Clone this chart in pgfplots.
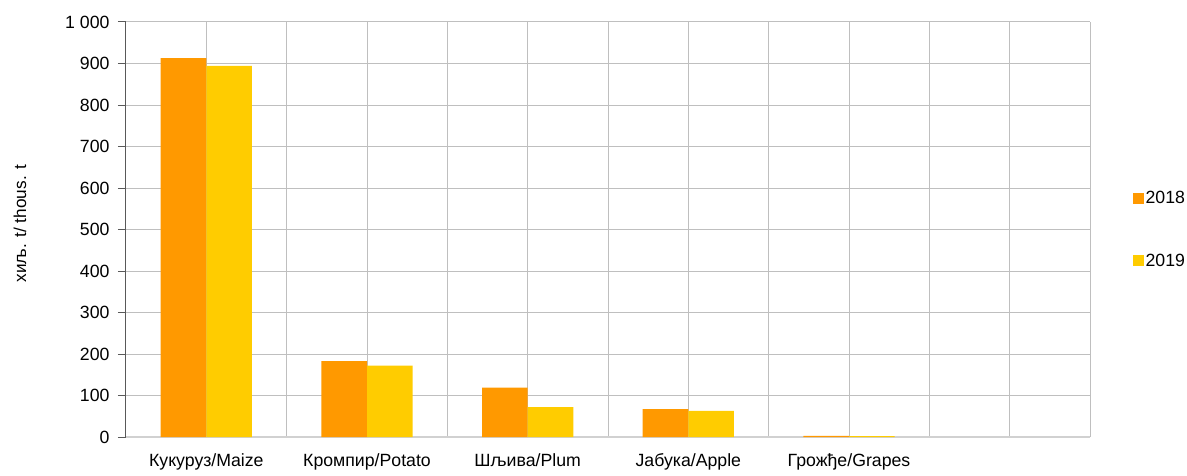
\documentclass[border=0pt]{standalone}
\usepackage{pgfplots}
\pgfplotsset{compat=1.18}
\usepackage{fontspec}
\setmainfont{Liberation Sans}
\definecolor{c18}{HTML}{FF9900}
\definecolor{c19}{HTML}{FFCC00}
\definecolor{gridc}{HTML}{BFBFBF}
\begin{document}
\begin{tikzpicture}
\useasboundingbox (0,0) rectangle (1187pt,475pt);
\begin{axis}[
  at={(126pt,38pt)}, anchor=south west,
  scale only axis, width=964pt, height=415pt,
  ybar=0pt, bar width=45.6pt,
  xmin=-0.5, xmax=5.5, ymin=0, ymax=1000,
  xtick={0,1,2,3,4},
  xticklabels={Кукуруз/Maize, Кромпир/Potato, Шљива/Plum, Јабука/Apple, Грожђе/Grapes},
  minor xtick={0.5,1.5,2.5,3.5,4.5,5,5.5},
  ytick={0,100,...,1000},
  xmajorgrids, xminorgrids, ymajorgrids,
  major grid style={draw=gridc, line width=1pt},
  minor grid style={draw=gridc, line width=1pt},
  axis x line*=bottom, axis y line*=left,
  x axis line style={draw=black!18, line width=1.5pt},
  y axis line style={draw=black!65, line width=1pt},
  xtick style={draw=none},
  ytick style={draw=black!65, line width=1pt},
  major tick length=8pt, tick align=outside,
  tick label style={font=\fontsize{17.7}{21}\selectfont},
  yticklabel style={xshift=-5pt},
  xticklabel style={yshift=-5pt},
  ylabel={хиљ. t/ thous. t},
  ylabel style={font=\fontsize{17.2}{20}\selectfont, at={(axis description cs:-0.110,0.514)}, anchor=center},
  legend style={at={(axis description cs:1.044,0.5)}, anchor=west, draw=none, fill=none,
    font=\fontsize{17.7}{21}\selectfont, row sep=45pt, inner sep=0pt},
  legend cell align=left,
  legend image code/.code={\fill[#1] (-4pt,-5.5pt) rectangle (7pt,5.5pt);},
  /pgf/number format/.cd, 1000 sep={\ }, assume math mode=true,
]
\addplot[fill=c18, draw=none] coordinates {(0,913) (1,183) (2,119) (3,67) (4,3)};
\addplot[fill=c19, draw=none] coordinates {(0,894) (1,172) (2,72) (3,63) (4,2)};
\legend{2018,2019}
\end{axis}
\end{tikzpicture}
\end{document}
